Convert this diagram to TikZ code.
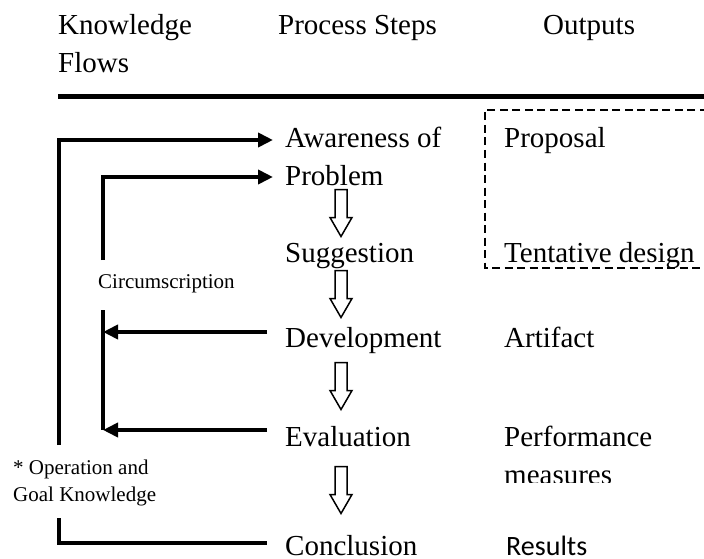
\documentclass[tikz,border=0pt]{standalone}
\usepackage{fontspec}
\setmainfont{Liberation Serif}
\newfontfamily\resultsfont{Carlito}
\usetikzlibrary{calc,arrows.meta}

\newcommand{\stepdown}[2]{%
  \draw[hollow] let \p1=($(#1.base west)!0.5!(#2.base west)+(56,-11)$) in
    (\x1-6pt,\y1+23pt) -- (\x1+6pt,\y1+23pt) -- (\x1+6pt,\y1-5pt)
    -- (\x1+11pt,\y1-5pt) -- (\x1,\y1-24pt) -- (\x1-11pt,\y1-5pt)
    -- (\x1-6pt,\y1-5pt) -- cycle;}

\begin{document}
\begin{tikzpicture}[x=1pt,y=-1pt,
    big/.style={font=\fontsize{29}{35}\selectfont, inner sep=0pt, anchor=base west},
    small/.style={font=\fontsize{21}{25}\selectfont, inner sep=0pt, anchor=base west},
    fline/.style={line width=4pt},
    flow/.style={fline, -{Triangle[length=15pt,width=14pt]}},
    hollow/.style={line width=1.5pt},
    outbox/.style={line width=2.5pt, dash pattern=on 8pt off 4.5pt},
    rule/.style={line width=5pt}]

    \useasboundingbox (0,0) rectangle (704,559);

    % headings
    \node[big] (hknow) at (58,35) {Knowledge};
    \node[big] (hflows) at (58,73) {Flows};
    \node[big] (hsteps) at (278,35) {Process Steps};
    \node[big] (hout) at (543,35) {Outputs};
    \draw[rule] (58,97) -- (704,97);

    % process steps
    \node[big] (aware) at (285,147) {Awareness of};
    \node[big] (problem) at (285,185) {Problem};
    \node[big] (sugg) at (285,262) {Suggestion};
    \node[big] (devel) at (285,347) {Development};
    \node[big] (eval) at (285,446) {Evaluation};
    \node[big] (concl) at (285,555) {Conclusion};

    \stepdown{problem}{sugg}
    \stepdown{sugg}{devel}
    \stepdown{devel}{eval}
    \stepdown{eval}{concl}

    % outputs
    \node[big] (proposal) at (504,147) {Proposal};
    \node[big] (tentative) at (504,262) {Tentative design};
    \node[big] (artifact) at (504,347) {Artifact};
    \node[big] (perf) at (504,446) {Performance};
    \begin{scope}
        \clip (480,450) rectangle (704,482);
        \node[big] (measures) at (504,484) {measures};
    \end{scope}
    \node[big, font=\resultsfont\fontsize{28}{34}\selectfont] (results) at (506,555) {Results};
    \draw[outbox] (720,110) -- (485,110) -- (485,268) -- (720,268);

    % knowledge flows
    \node[small] (circ) at (98,288) {Circumscription};
    \node[small] (opknow) at (13,474) {* Operation and};
    \node[small] (goalknow) at (13,501) {Goal Knowledge};

    \coordinate (o1) at (59,140);
    \coordinate (o2) at (59,445);
    \coordinate (o3) at (59,518);
    \coordinate (o4) at (59,543);
    \coordinate (i1) at (103,177);
    \coordinate (i2) at (103,260);
    \coordinate (i3) at (103,310);
    \coordinate (i4) at (103,430);
    \coordinate (d1) at (103,332);

    \draw[flow, shorten >=12pt] (o2) -- (o1) -- (o1 -| aware.west);
    \draw[flow, shorten >=12pt] (i2) -- (i1) -- (i1 -| problem.west);
    \draw[fline] (i3) -- (i4);
    \draw[flow, shorten <=18pt] (d1 -| devel.west) -- (d1);
    \draw[flow, shorten <=18pt] (i4 -| eval.west) -- (i4);
    \draw[fline, shorten >=18pt] (o3) -- (o4) -- (o4 -| concl.west);

\end{tikzpicture}
\end{document}
